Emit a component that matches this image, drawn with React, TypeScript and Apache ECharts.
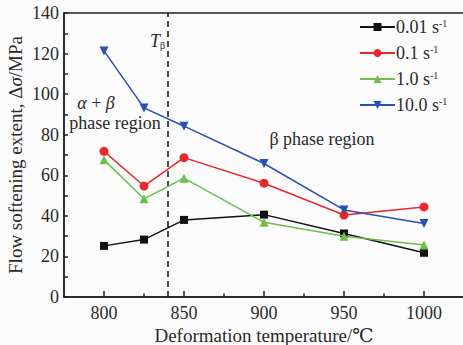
import React, { useEffect, useRef } from "react";
import * as echarts from "echarts";

const temps = [800, 825, 850, 900, 950, 1000];
const seriesNames = ["0.01 s-1", "0.1 s-1", "1.0 s-1", "10.0 s-1"];
const s001 = [25.2, 28.3, 38.0, 40.6, 31.3, 21.8];
const s01 = [71.8, 54.7, 68.7, 56.1, 40.4, 44.4];
const s10 = [67.6, 48.4, 58.6, 36.8, 30.0, 25.6];
const s100 = [121.3, 93.2, 84.2, 65.8, 42.9, 36.2];
const xMajorTicks = [800, 850, 900, 950, 1000];
const xMinorTicks = [825, 875, 925, 975];
const tBeta = 840;

const SERIF = "'Liberation Serif', 'DejaVu Serif', serif";
const TXT = "#2a2a2a";

export default function App() {
  const ref = useRef<HTMLDivElement>(null);
  useEffect(() => {
    document.body.style.margin = "0";
    const chart = echarts.init(ref.current!, null, { renderer: "svg" });
    const colors = ["#111111", "#e8282c", "#6cbf48", "#2b4fae"];
    const symbols = ["rect", "circle", "triangle", "triangle"];
    const rotates = [0, 0, 0, 180];
    const vals = [s001, s01, s10, s100];
    const series: any[] = seriesNames.map((n, i) => ({
      name: n,
      type: "line",
      data: temps.map((t, j) => [t, vals[i][j]]),
      symbol: symbols[i],
      symbolRotate: rotates[i],
      symbolSize: i === 0 ? 8 : 9,
      showSymbol: true,
      lineStyle: { color: colors[i], width: 1.5 },
      itemStyle: { color: colors[i] },
      color: colors[i],
      z: 3 + i,
    }));
    series[0].markLine = {
      silent: true,
      symbol: "none",
      label: { show: false },
      lineStyle: { color: "#111", type: [6, 4], width: 1.5 },
      data: [{ xAxis: tBeta }],
    };
    chart.setOption({
      animation: false,
      backgroundColor: "#fbfbfb",
      grid: {
        left: 64,
        top: 13,
        width: 400,
        height: 284,
        containLabel: false,
        outerBoundsMode: "none",
        show: true,
        borderColor: "#222",
        borderWidth: 1.5,
        backgroundColor: "transparent",
      },
      legend: {
        data: seriesNames,
        left: 359,
        top: 18,
        orient: "vertical",
        padding: 0,
        itemWidth: 35,
        itemHeight: 10,
        itemGap: 8,
        textStyle: {
          fontFamily: SERIF,
          fontSize: 18,
          color: TXT,
          lineHeight: 17,
          padding: [0, 0, 0, -4],
          rich: {
            a: { fontFamily: SERIF, fontSize: 18, color: TXT, lineHeight: 17 },
            b: { fontFamily: SERIF, fontSize: 10, color: TXT, lineHeight: 8, verticalAlign: "top" },
          },
        },
        formatter: (name: string) => {
          const parts = name.split(" s");
          return `{a|${parts[0]} s}{b|${parts[1]}}`;
        },
      },
      xAxis: [
        {
          type: "value",
          min: 775,
          max: 1025,
          interval: 25,
          name: "Deformation temperature/℃",
          nameLocation: "middle",
          nameGap: 29,
          nameMoveOverlap: false,
          nameTextStyle: { fontFamily: SERIF, fontSize: 19, color: TXT },
          axisLine: { show: true, onZero: false, lineStyle: { color: "#222", width: 1.5 } },
          axisTick: { show: true, inside: true, length: 6, customValues: xMajorTicks, lineStyle: { color: "#222", width: 1.5 } },
          axisLabel: {
            customValues: xMajorTicks,
            formatter: (v: number) => String(v),
            fontFamily: SERIF,
            fontSize: 18,
            color: TXT,
            margin: 7,
          },
          splitLine: { show: false },
        },
        {
          type: "value",
          min: 775,
          max: 1025,
          interval: 25,
          position: "bottom",
          axisLine: { show: false },
          axisTick: { show: true, inside: true, length: 3.5, customValues: xMinorTicks, lineStyle: { color: "#222", width: 1.5 } },
          axisLabel: { show: false },
          splitLine: { show: false },
        },
      ],
      yAxis: {
        type: "value",
        min: 0,
        max: 140,
        interval: 20,
        name: "Flow softening extent, Δ{i|σ}/MPa",
        nameLocation: "middle",
        nameGap: 39,
        nameMoveOverlap: false,
        nameTextStyle: {
          fontFamily: SERIF,
          fontSize: 19,
          color: TXT,
          rich: { i: { fontFamily: SERIF, fontSize: 19, fontStyle: "italic", color: TXT } },
        },
        axisLine: { show: true, lineStyle: { color: "#222", width: 1.5 } },
        axisTick: { show: true, inside: true, length: 4, lineStyle: { color: "#222", width: 1.5 } },
        minorTick: { show: true, splitNumber: 2, length: 4, lineStyle: { color: "#222", width: 1.5 } },
        axisLabel: { fontFamily: SERIF, fontSize: 18, color: TXT, margin: 5 },
        splitLine: { show: false },
      },
      graphic: [
        {
          type: "text",
          left: 150,
          top: 32,
          style: {
            text: "{t|T}{s|β}",
            rich: {
              t: { fontFamily: SERIF, fontSize: 18, fontStyle: "italic", fill: TXT },
              s: { fontFamily: SERIF, fontSize: 10, fill: TXT, verticalAlign: "bottom", padding: [6, 0, 0, 0] },
            },
          },
        },
        {
          type: "text",
          x: 96,
          y: 103,
          style: {
            text: "{g|α} + {g|β}",
            align: "center",
            verticalAlign: "middle",
            fill: TXT,
            fontFamily: SERIF,
            fontSize: 18,
            lineHeight: 16,
            rich: { g: { fontFamily: SERIF, fontSize: 18, fontStyle: "italic", fill: TXT, lineHeight: 16 } },
          },
        },
        {
          type: "text",
          x: 115,
          y: 123,
          style: { text: "phase region", align: "center", verticalAlign: "middle", fill: TXT, fontFamily: SERIF, fontSize: 18, lineHeight: 16 },
        },
        {
          type: "text",
          x: 322,
          y: 139,
          style: { text: "β phase region", align: "center", verticalAlign: "middle", fill: TXT, fontFamily: SERIF, fontSize: 18 },
        },
      ],
      series,
    });
    return () => chart.dispose();
  }, []);
  return <div ref={ref} style={{ width: 463, height: 345 }} />;
}
